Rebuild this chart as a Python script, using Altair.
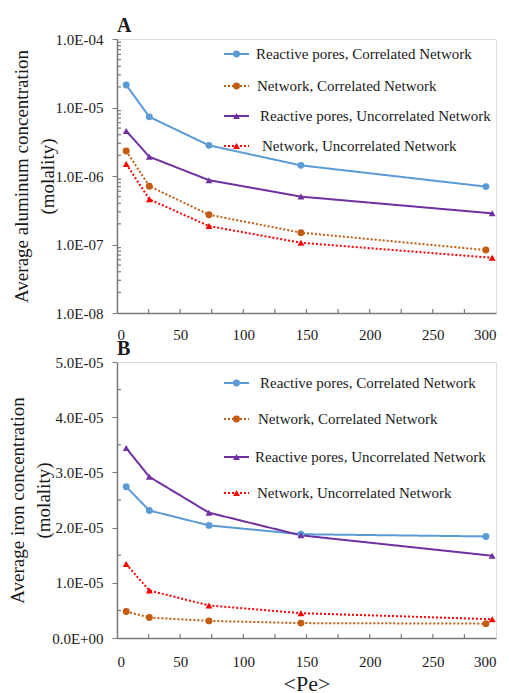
import altair as alt
import pandas as pd

# Mean Péclet number of each simulation
pe_correlated = [7.3, 25.6, 72.8, 145.6, 292]
pe_uncorrelated = [7.3, 25.6, 72.8, 145.6, 297]

series = [
    "Reactive pores, Correlated Network",
    "Network, Correlated Network",
    "Reactive pores, Uncorrelated Network",
    "Network, Uncorrelated Network",
]

# Average aluminum concentration (molality)
al_reactive_corr = [2.13e-5, 7.3e-6, 2.8e-6, 1.43e-6, 7.0e-7]
al_network_corr = [2.32e-6, 7.1e-7, 2.72e-7, 1.49e-7, 8.3e-8]
al_reactive_uncorr = [4.54e-6, 1.91e-6, 8.7e-7, 5.0e-7, 2.85e-7]
al_network_uncorr = [1.5e-6, 4.57e-7, 1.86e-7, 1.06e-7, 6.4e-8]

# Average iron concentration (molality)
fe_reactive_corr = [2.74e-5, 2.31e-5, 2.04e-5, 1.88e-5, 1.84e-5]
fe_network_corr = [4.8e-6, 3.7e-6, 3.1e-6, 2.7e-6, 2.6e-6]
fe_reactive_uncorr = [3.44e-5, 2.92e-5, 2.27e-5, 1.86e-5, 1.49e-5]
fe_network_uncorr = [1.34e-5, 8.6e-6, 5.9e-6, 4.5e-6, 3.4e-6]

x_ticks = [0, 50, 100, 150, 200, 250, 300]
x_minor = [25, 50, 75, 100, 125, 150, 175, 200, 225, 250, 275]
al_ticks = [1e-8, 1e-7, 1e-6, 1e-5, 1e-4]
al_minor = [m * 10.0 ** k for k in range(-8, -4) for m in range(2, 10)]
fe_ticks = [0, 1e-5, 2e-5, 3e-5, 4e-5, 5e-5]
fe_minor = [0.5e-5, 1.5e-5, 2.5e-5, 3.5e-5, 4.5e-5]

FONT = "Liberation Serif"
GRAY = "#7a7a7a"
TEXT = "#1a1a1a"
W = 379

colors = ["#5b9bd5", "#c55a11", "#7030a0", "#ff0000"]
dashes = [[1, 0], [2, 2], [1, 0], [2, 2]]
shapes = ["circle", "circle", "triangle-up", "triangle-up"]

color_scale = alt.Scale(domain=series, range=colors)
dash_scale = alt.Scale(domain=series, range=dashes)
shape_scale = alt.Scale(domain=series, range=shapes)


def long_table(groups):
    rows = []
    for name, pe, vals in groups:
        for p, v in zip(pe, vals):
            rows.append({"series": name, "pe": p, "value": v})
    return pd.DataFrame(rows)


al_df = long_table([
    (series[0], pe_correlated, al_reactive_corr),
    (series[1], pe_correlated, al_network_corr),
    (series[2], pe_uncorrelated, al_reactive_uncorr),
    (series[3], pe_uncorrelated, al_network_uncorr),
])
fe_df = long_table([
    (series[0], pe_correlated, fe_reactive_corr),
    (series[1], pe_correlated, fe_network_corr),
    (series[2], pe_uncorrelated, fe_reactive_uncorr),
    (series[3], pe_uncorrelated, fe_network_uncorr),
])


def panel(df, label, height, y_scale, y_axis, y_minor, x_axis, legend_y, legend_tx):
    x_enc = alt.X("pe:Q", scale=alt.Scale(domain=[0, 300], nice=False, zero=False), axis=x_axis)
    y_enc = alt.Y("value:Q", scale=y_scale, axis=y_axis)
    color = alt.Color("series:N", scale=color_scale, legend=None)

    lines = alt.Chart(df).mark_line(strokeWidth=2).encode(
        x=x_enc, y=y_enc, color=color,
        strokeDash=alt.StrokeDash("series:N", scale=dash_scale, legend=None),
        detail="series:N",
    )
    points = alt.Chart(df).mark_point(filled=True, size=48, opacity=1).encode(
        x=x_enc, y=y_enc, color=color,
        shape=alt.Shape("series:N", scale=shape_scale, legend=None),
    )

    # inward tick marks along the bottom and left edges
    xt = alt.Chart(pd.DataFrame({"pe": x_minor})).mark_rule(color=GRAY, strokeWidth=1.2).encode(
        x=x_enc, y=alt.value(height), y2=alt.value(height - 4)
    )
    yt = alt.Chart(pd.DataFrame({"value": y_minor})).mark_rule(color=GRAY, strokeWidth=1.2).encode(
        y=y_enc, x=alt.value(0), x2=alt.value(4)
    )

    layers = [xt, yt, lines, points]

    # legend drawn inside the plot: sample line, marker and label per series
    for name, ly, tx in zip(series, legend_y, legend_tx):
        row = pd.DataFrame({"series": [name]})
        layers.append(alt.Chart(row).mark_rule(strokeWidth=2).encode(
            x=alt.value(107), x2=alt.value(132), y=alt.value(ly), color=color,
            strokeDash=alt.StrokeDash("series:N", scale=dash_scale, legend=None),
        ))
        layers.append(alt.Chart(row).mark_point(filled=True, size=48, opacity=1).encode(
            x=alt.value(119.5), y=alt.value(ly), color=color,
            shape=alt.Shape("series:N", scale=shape_scale, legend=None),
        ))
        layers.append(alt.Chart(row).mark_text(
            align="left", baseline="middle", font=FONT, fontSize=15, color=TEXT
        ).encode(x=alt.value(tx), y=alt.value(ly), text="series:N"))

    return alt.layer(*layers).properties(
        width=W, height=height,
        title=alt.TitleParams(label, anchor="start", frame="group", font=FONT,
                              fontSize=20, fontWeight="bold", color=TEXT, offset=-4),
    )


common_axis = dict(
    labelFont=FONT, labelFontSize=15, labelColor=TEXT,
    titleFont=FONT, titleFontWeight="normal", titleColor=TEXT,
    domainColor=GRAY, domainWidth=1.5, tickColor=GRAY, grid=False,
)

x_axis_a = alt.Axis(values=x_ticks, ticks=False, labelPadding=14, title=None, **common_axis)
x_axis_b = alt.Axis(values=x_ticks, ticks=False, labelPadding=16, title="<Pe>",
                    titleFontSize=22, titlePadding=4, **common_axis)

y_axis_a = alt.Axis(
    values=al_ticks, tickSize=5, labelPadding=9,
    labelExpr="'1.0E-0' + format(-log(datum.value) / LN10, '.0f')",
    title=["Average aluminum concentration", "(molality)"],
    titleFontSize=19, titleLineHeight=26, titlePadding=-2, **common_axis,
)
y_axis_b = alt.Axis(
    values=fe_ticks, tickSize=5, labelPadding=9,
    labelExpr="datum.value == 0 ? '0.0E+00' : format(datum.value / 1e-5, '.1f') + 'E-05'",
    title=["Average iron concentration", "(molality)"],
    titleFontSize=19, titleLineHeight=26, titlePadding=-2, **common_axis,
)

panel_a = panel(
    al_df, "A", 274,
    alt.Scale(type="log", domain=[1e-8, 1e-4], nice=False),
    y_axis_a, al_minor, x_axis_a,
    legend_y=[15, 47, 77, 107], legend_tx=[139, 140, 143, 145],
)
panel_b = panel(
    fe_df, "B", 276,
    alt.Scale(domain=[0, 5e-5], nice=False, zero=True),
    y_axis_b, fe_minor, x_axis_b,
    legend_y=[21, 57, 95, 131], legend_tx=[143, 141, 138, 140],
)

chart = alt.vconcat(panel_a, panel_b, spacing=-5).properties(
    padding={"left": 8, "top": 15, "right": 8, "bottom": 0}
).configure_view(stroke=GRAY, strokeWidth=1.5).configure(background="white")

chart.save("out.html", embed_options={"renderer": "svg", "actions": False})
